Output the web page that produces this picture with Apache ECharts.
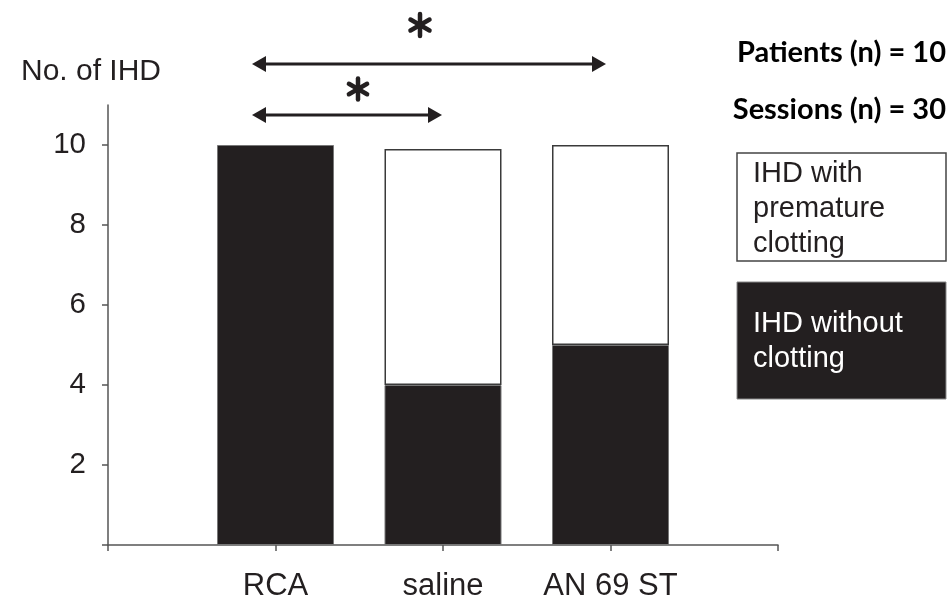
<!DOCTYPE html>
<html>
<head>
<meta charset="utf-8">
<script src="https://cdn.jsdelivr.net/npm/echarts@6/dist/echarts.min.js"></script>
<style>
  html, body { margin: 0; padding: 0; background: #fff; }
  #chart { width: 951px; height: 603px; }
</style>
</head>
<body>
<div id="chart"></div>
<script>
// 分类（两端空位只用来画刻度）
var categories = ["", "RCA", "saline", "AN 69 ST", ""];
// IHD without clotting（黑）
var withoutClotting = ["-", 10, 4, 5, "-"];
// IHD with premature clotting（白），叠在黑色上面
var withClotting = ["-", "-", 5.9, 5, "-"];
var yTicks = [0, 2, 4, 6, 8, 10];
var yLabels = [2, 4, 6, 8, 10];

var ink = "#231f20";
var font = "Liberation Sans";

// 双向箭头
function arrow(x1, x2, y) {
  var h = 14, w = 8;
  return {
    type: "group",
    children: [
      { type: "line", shape: { x1: x1 + 6, y1: y, x2: x2 - 6, y2: y },
        style: { stroke: ink, lineWidth: 3 } },
      { type: "polygon", shape: { points: [[x1, y], [x1 + h, y - w], [x1 + h, y + w]] },
        style: { fill: ink } },
      { type: "polygon", shape: { points: [[x2, y], [x2 - h, y - w], [x2 - h, y + w]] },
        style: { fill: ink } },
    ],
  };
}

// 六角星号，三条线交叉
function star(x, y, r) {
  var kids = [];
  [90, 30, 150].forEach(function (deg) {
    var a = (deg * Math.PI) / 180;
    var dx = Math.cos(a) * r, dy = Math.sin(a) * r;
    kids.push({
      type: "line",
      shape: { x1: x - dx, y1: y - dy, x2: x + dx, y2: y + dy },
      style: { stroke: ink, lineWidth: 4.5, lineCap: "round" },
    });
  });
  return { type: "group", children: kids };
}

var myChart = echarts.init(document.getElementById("chart"));

var option = {
  backgroundColor: "#ffffff",
  animation: false,
  grid: { left: 108, right: 173, top: 105, bottom: 58 },
  xAxis: {
    type: "category",
    data: categories,
    boundaryGap: false,
    axisLine: { lineStyle: { color: "#555", width: 1.5 } },
    axisTick: { length: 6, interval: 0, lineStyle: { color: "#555", width: 1.5 } },
    axisLabel: { color: ink, fontSize: 31, fontFamily: font, margin: 26, interval: 0, hideOverlap: false },
  },
  yAxis: {
    type: "value",
    min: 0,
    max: 11,
    name: "No. of IHD",
    nameLocation: "end",
    nameGap: 18,
    nameTextStyle: { color: ink, fontSize: 30, fontFamily: font, align: "center", padding: [0, 34, 0, 0] },
    splitLine: { show: false },
    axisLine: { show: true, lineStyle: { color: "#555", width: 1.5 } },
    axisTick: { show: true, length: 6, customValues: yTicks, lineStyle: { color: "#555", width: 1.5 } },
    axisLabel: { color: ink, fontSize: 29.5, fontFamily: font, margin: 22, customValues: yLabels },
  },
  series: [
    {
      name: "IHD without clotting",
      type: "bar",
      stack: "ihd",
      barWidth: 117,
      data: withoutClotting,
      itemStyle: { color: ink, borderColor: "#777", borderWidth: 1 },
    },
    {
      name: "IHD with premature clotting",
      type: "bar",
      stack: "ihd",
      barWidth: 117,
      data: withClotting,
      itemStyle: { color: "#ffffff", borderColor: "#3a3a3a", borderWidth: 1.5 },
    },
  ],
  graphic: [
    arrow(252, 606, 64),
    star(420, 25, 11),
    arrow(252, 442, 115),
    star(358, 89, 10.5),
    {
      type: "text", right: 5, top: 38,
      style: { text: "Patients (n) = 10", fontSize: 29, fontWeight: "bold", fontFamily: "Lato", fill: "#000" },
    },
    {
      type: "text", right: 5, top: 95,
      style: { text: "Sessions (n) = 30", fontSize: 29, fontWeight: "bold", fontFamily: "Lato", fill: "#000" },
    },
    // 图例框
    {
      type: "rect", shape: { x: 737, y: 153, width: 209, height: 108 },
      style: { fill: "#fff", stroke: "#444", lineWidth: 1.5 },
    },
    {
      type: "text", x: 753, y: 156,
      style: { text: "IHD with\npremature\nclotting", fontSize: 29, lineHeight: 35, fontFamily: font, fill: ink },
    },
    {
      type: "rect", shape: { x: 737, y: 282, width: 209, height: 117 },
      style: { fill: ink, stroke: "#888", lineWidth: 1 },
    },
    {
      type: "text", x: 753, y: 306,
      style: { text: "IHD without\nclotting", fontSize: 29, lineHeight: 35, fontFamily: font, fill: "#fff" },
    },
  ],
};

myChart.setOption(option);
</script>
</body>
</html>
